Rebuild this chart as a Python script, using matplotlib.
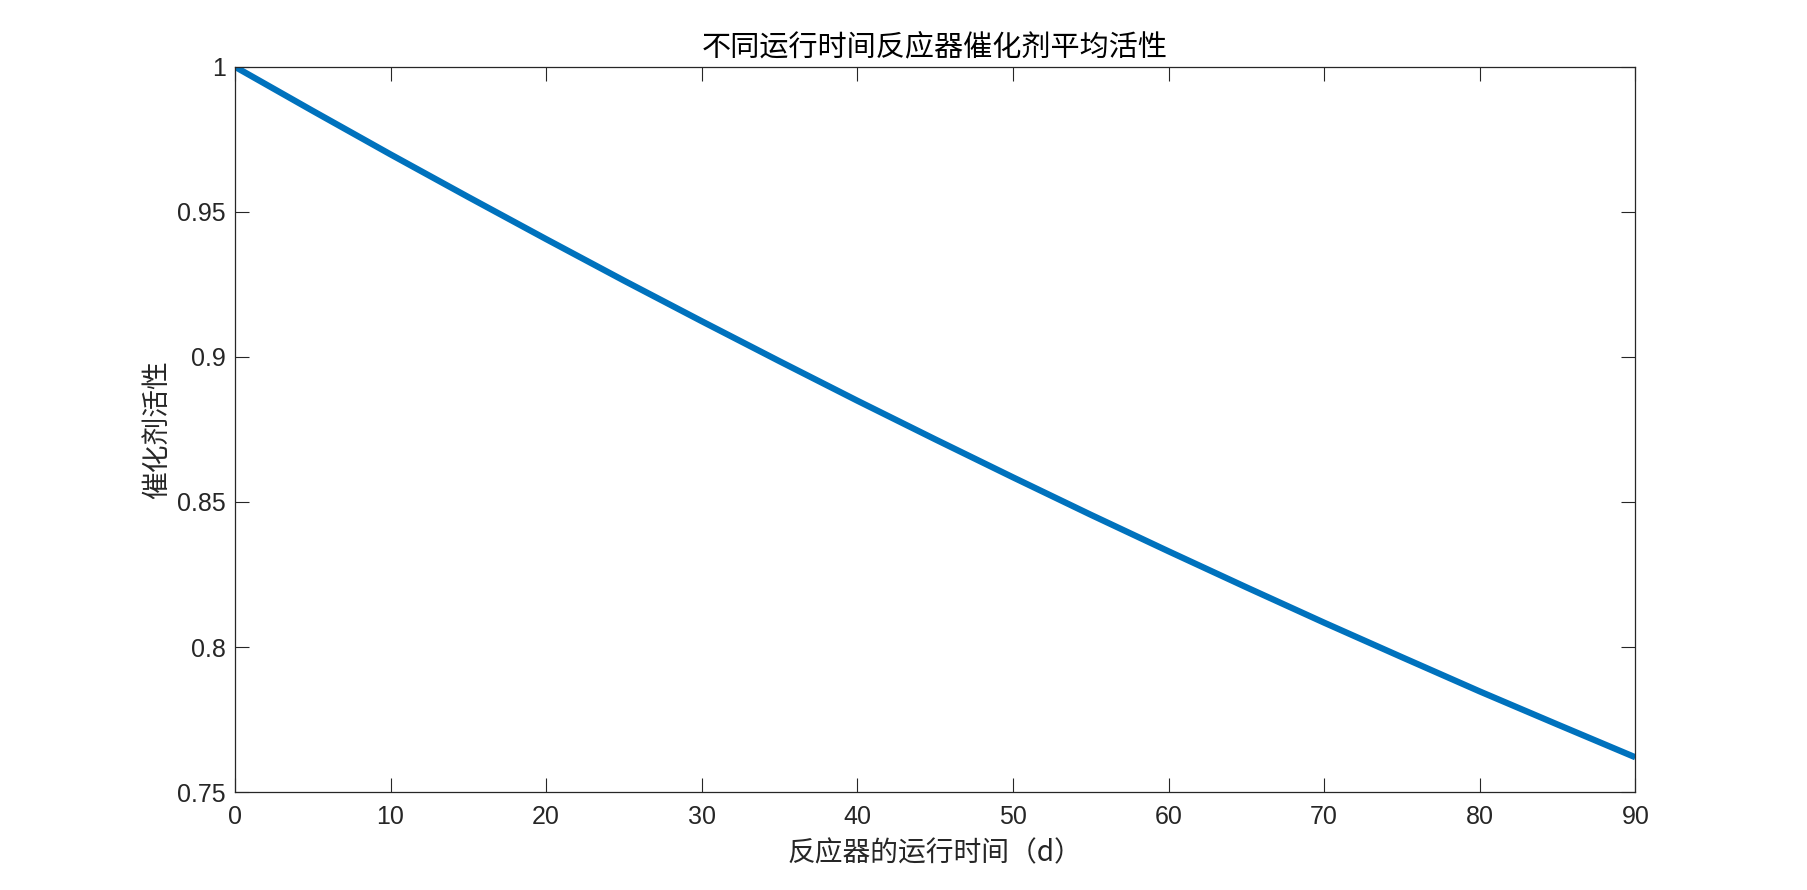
import matplotlib
matplotlib.use('Agg')
import matplotlib.pyplot as plt

# data
days = [0, 5, 10, 15, 20, 25, 30, 35, 40, 45, 50, 55, 60, 65, 70, 75, 80, 85, 90]
activity = [1.0000, 0.9848, 0.9698, 0.9551, 0.9406, 0.9263, 0.9123, 0.8985, 0.8849, 0.8716,
            0.8585, 0.8456, 0.8330, 0.8206, 0.8084, 0.7965, 0.7847, 0.7733, 0.7620]

xticks = [0, 10, 20, 30, 40, 50, 60, 70, 80, 90]
yticks = [0.75, 0.8, 0.85, 0.9, 0.95, 1.0]
ytick_labels = ['0.75', '0.8', '0.85', '0.9', '0.95', '1']

title = '不同运行时间反应器催化剂平均活性'
xlabel = '反应器的运行时间（d）'
ylabel = '催化剂活性'

cjk = ['Noto Sans CJK SC', 'DejaVu Sans']
num_font = ['Liberation Sans', 'DejaVu Sans']
ink = '#262626'

fig = plt.figure(figsize=(18.07, 8.90), dpi=100)
ax = fig.add_axes([0.13, 0.11, 0.775, 0.815])

ax.plot(days, activity, color='#0072BD', linewidth=4.5, solid_capstyle='butt',
        solid_joinstyle='round')

ax.set_xlim(0, 90)
ax.set_ylim(0.75, 1.0)
ax.set_xticks(xticks)
ax.set_xticklabels([str(t) for t in xticks], fontfamily=num_font, fontsize=18, color=ink)
ax.set_yticks(yticks)
ax.set_yticklabels(ytick_labels, fontfamily=num_font, fontsize=18, color=ink)

ax.tick_params(axis='both', direction='in', length=10, width=0.8, color=ink,
               top=True, right=True)
ax.tick_params(axis='x', pad=9.5)
ax.tick_params(axis='y', pad=6.5)
for s in ax.spines.values():
    s.set_color(ink)
    s.set_linewidth(0.9)

ax.set_xlabel(xlabel, fontfamily=cjk, fontsize=20, color=ink)
ax.xaxis.set_label_coords(0.5, -0.084)
ax.xaxis.label.set_va('center')
ax.set_ylabel(ylabel, fontfamily=cjk, fontsize=20, color=ink)
ax.yaxis.set_label_coords(-0.0557, 0.5)
ax.yaxis.label.set_va('center')

ax.text(0.5, 1.026, title, transform=ax.transAxes, ha='center', va='center',
        fontfamily=cjk, fontsize=21, color='black')

fig.savefig('out.png', dpi=100, facecolor='white')
